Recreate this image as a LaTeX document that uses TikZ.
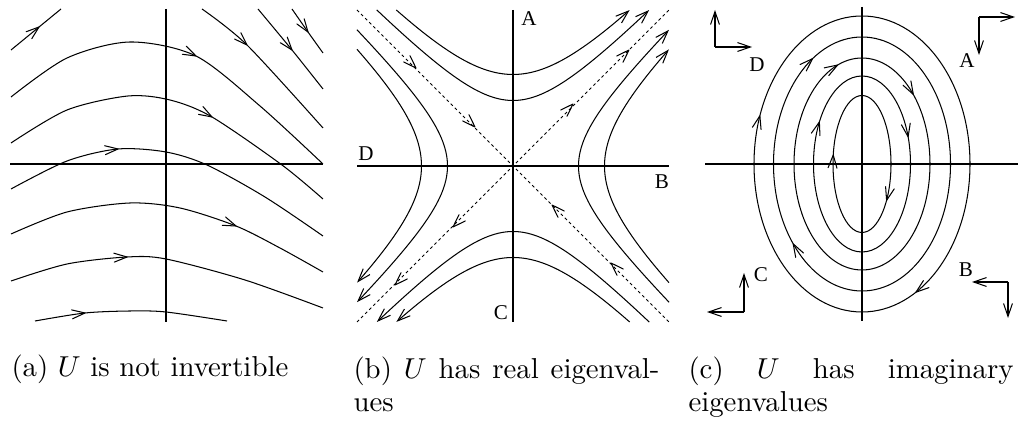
\documentclass[tikz,border=0pt]{standalone}
\usepackage{fontspec}
\newfontfamily\labfont{Liberation Serif}
\usetikzlibrary{arrows.meta}
\tikzset{
  tipline/.style={line width=0.36pt, line join=round, line cap=round},
  tipend/.style={-{Straight Barb[length=4.5pt,width=3.1pt]}},
  diag/.style={dash pattern=on 1pt off 1pt},
  lab/.style={font=\labfont\fontsize{7.3}{8.5}\selectfont, inner sep=0pt},
  captext/.style={inner sep=0pt, anchor=base west},
}
\newcommand\varr[4]{%
  \pgfmathsetmacro\varrang{atan2(-(#4),#3)}%
  \draw[tipline,shift={(#1,#2)},rotate=\varrang] (-4.5pt,1.55pt) -- (0,0) -- (-4.5pt,-1.55pt);}
\newcommand\earr[3]{%
  \pgfmathsetmacro\earrx{862+#1*cos(#3)}%
  \pgfmathsetmacro\earry{164+#2*sin(#3)}%
  \pgfmathsetmacro\earrdx{-#1*sin(#3)}%
  \pgfmathsetmacro\earrdy{#2*cos(#3)}%
  \varr{\earrx}{\earry}{\earrdx}{\earrdy}}
\begin{document}
\begin{tikzpicture}[x=0.347pt, y=-0.347pt, line width=0.36pt,
  declare function={ch(\t)=(exp(\t)+exp(-\t))/2; sh(\t)=(exp(\t)-exp(-\t))/2;}]
\fill[white] (0,0) rectangle (1020,423);
\useasboundingbox (0,0) rectangle (1020,423);

% ---------------- panel (a)
\draw (166,9) -- (166,322);
\draw (10,164) -- (323,164);
\draw (11,50) -- (61,9); \varr{39}{27}{50}{-41}
\draw plot[smooth] coordinates {(11,97) (67,58) (130,42) (196,56) (260,106) (323,164)};
\varr{196}{56}{130}{64}
\draw plot[smooth] coordinates {(11,143) (67,110) (128,96) (170,100) (212,117) (282,165) (323,199)};
\varr{212}{117}{112}{65}
\draw plot[smooth] coordinates {(11,189) (67,161) (118,149) (166,152) (207,165) (265,197) (323,236)};
\varr{118}{149}{99}{-9}
\draw plot[smooth] coordinates {(11,234) (67,212) (130,203) (180,208) (236,226) (280,248) (323,272)};
\varr{236}{226}{100}{40}
\draw plot[smooth] coordinates {(11,281) (67,264) (127,257) (166,259) (245,280) (323,308)};
\varr{127}{257}{99}{-5}
\draw plot[smooth] coordinates {(35,321) (85,313) (130,311) (166,312) (227,321)};
\varr{85}{313}{95}{-10}
\draw plot[smooth] coordinates {(202,9) (247,45) (323,128)};
\varr{247}{45}{121}{119}
\draw plot[smooth] coordinates {(258,9) (292,50) (323,89)};
\varr{292}{50}{65}{80}
\draw plot[smooth] coordinates {(292,9) (308,32) (323,53)};
\varr{308}{32}{31}{44}

% ---------------- panel (b)
\draw (513,10) -- (513,322);
\draw (357,166) -- (669,166);
\fill (513,166) circle (0.5pt);
\draw[diag] (357,10) -- (669,322);
\draw[diag] (357,322) -- (669,10);
\varr{416}{68}{1}{1} \varr{475}{127}{1}{1}
\varr{552}{205}{-1}{-1} \varr{611}{263}{-1}{-1}
\varr{453}{227}{-1}{1} \varr{395}{285}{-1}{1}
\varr{573}{104}{1}{-1} \varr{629}{50}{1}{-1}
% top
\draw[tipend] plot[domain=-1.514:1.514, samples=60] ({513+63*sh(\x)}, {166-65.5*ch(\x)});
\draw[tipend] plot[domain=-1.127:1.127, samples=60] ({513+84.5*sh(\x)}, {166-91.5*ch(\x)});
% bottom
\draw[tipend] plot[domain=-1.514:1.514, samples=60] ({513-63*sh(\x)}, {166+65.5*ch(\x)});
\draw[tipend] plot[domain=-1.127:1.127, samples=60] ({513-84.5*sh(\x)}, {166+91.5*ch(\x)});
% right
\draw[tipend] plot[domain=-1.514:1.514, samples=60] ({513+65.5*ch(\x)}, {166-63*sh(\x)});
\draw[tipend] plot[domain=-1.127:1.127, samples=60] ({513+91.5*ch(\x)}, {166-84.5*sh(\x)});
% left
\draw[tipend] plot[domain=-1.514:1.514, samples=60] ({513-65.5*ch(\x)}, {166+63*sh(\x)});
\draw[tipend] plot[domain=-1.127:1.127, samples=60] ({513-91.5*ch(\x)}, {166+84.5*sh(\x)});
\node[lab] (bA) at (529,18.5) {A};
\node[lab] (bB) at (662,182) {B};
\node[lab] (bC) at (501,313) {C};
\node[lab] (bD) at (366,154) {D};

% ---------------- panel (c)
\draw (862,7) -- (862,321);
\draw (705,164) -- (1018,164);
\draw (862,164) ellipse [x radius=108, y radius=148];
\draw (862,164) ellipse [x radius=88.5, y radius=127];
\draw (862,164) ellipse [x radius=68, y radius=106];
\draw (862,164) ellipse [x radius=48.5, y radius=88];
\draw (862,164) ellipse [x radius=29, y radius=68.5];
\earr{108}{148}{199} \earr{108}{148}{60}
\earr{88.5}{127}{236} \earr{88.5}{127}{141}
\earr{68}{106}{249} \earr{68}{106}{319}
\earr{48.5}{88}{208.5} \earr{48.5}{88}{342}
\earr{29}{68.5}{187.5} \earr{29}{68.5}{32}
\coordinate (d0) at (715,47); \coordinate (d1) at (715,10); \coordinate (d2) at (752,47);
\draw[tipend] (d0) -- (d1); \draw[tipend] (d0) -- (d2);
\coordinate (a0) at (979,17); \coordinate (a1) at (1015,17); \coordinate (a2) at (979,55);
\draw[tipend] (a0) -- (a1); \draw[tipend] (a0) -- (a2);
\coordinate (b0) at (1008,282); \coordinate (b1) at (972,282); \coordinate (b2) at (1008,318);
\draw[tipend] (b0) -- (b1); \draw[tipend] (b0) -- (b2);
\coordinate (c0) at (744,312); \coordinate (c1) at (744,273); \coordinate (c2) at (707,312);
\draw[tipend] (c0) -- (c1); \draw[tipend] (c0) -- (c2);
\node[lab] (cA) at (967,61) {A};
\node[lab] (cB) at (966,270) {B};
\node[lab] (cC) at (761,275) {C};
\node[lab] (cD) at (757,65) {D};

% ---------------- captions
\node[captext] (capa) at (11,377) {(a) $U$ is not invertible};
\node[captext] (capb1) at (353,379) {\makebox[106.2pt][s]{(b) $U$ has real eigenval-}};
\node[captext] (capb2) at (353,412) {ues};
\node[captext] (capc1) at (688,379) {\makebox[112.8pt][s]{(c) $U$ has imaginary}};
\node[captext] (capc2) at (688,412) {eigenvalues};
\end{tikzpicture}
\end{document}
